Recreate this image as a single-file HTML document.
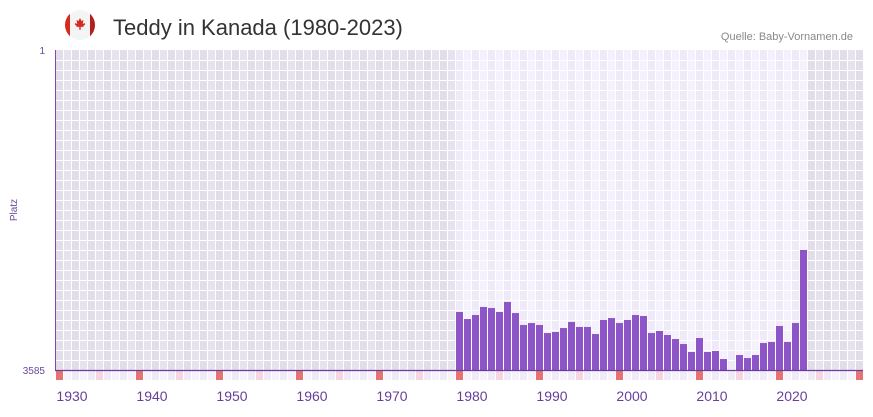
<!DOCTYPE html>
<html><head><meta charset="utf-8"><style>
body{margin:0;background:#fff;width:873px;height:412px;overflow:hidden;font-family:"Liberation Sans",sans-serif}
</style></head><body>
<svg id="chart" width="873" height="412" xmlns="http://www.w3.org/2000/svg">
<g>
<circle cx="80" cy="25" r="15" fill="#f4f4f4"/>
<path d="M70 13.8 A15 15 0 0 0 70 36.2 Z" fill="#d52b1e"/>
<path d="M90 13.8 A15 15 0 0 1 90 36.2 Z" fill="#b21f1f"/>
<path d="M80 18 l1.5 3 2-1 -0.8 4 2-1 0.5 1.5 -2 1.5 0.5 1 -3 -0.3 0 3 h-1.4 v-3 l-3 0.3 0.5-1 -2-1.5 0.5-1.5 2 1 -0.8-4 2 1z" fill="#d52b1e"/>
</g>
<text x="113" y="35" font-size="22" fill="#333">Teddy in Kanada (1980-2023)</text>
<text x="853" y="40" font-size="11" fill="#888" text-anchor="end">Quelle: Baby-Vornamen.de</text>
<g id="grid"></g>
<g id="bars"></g>
<g id="xaxis"></g>
<line x1="55.5" y1="50" x2="55.5" y2="370" stroke="#7b4fb0" stroke-width="1"/>
<line x1="55" y1="370.5" x2="863" y2="370.5" stroke="#6a3d9a" stroke-width="1.2"/>
<text x="45" y="54" font-size="10" fill="#6a4a9a" text-anchor="end">1</text>
<text x="45" y="374" font-size="10" fill="#6a4a9a" text-anchor="end">3585</text>
<text x="17" y="210" font-size="10" fill="#6a4a9a" text-anchor="middle" transform="rotate(-90 17 210)">Platz</text>
</svg>
<script>
const years=[1980,1981,1982,1983,1984,1985,1986,1987,1988,1989,1990,1991,1992,1993,1994,1995,1996,1997,1998,1999,2000,2001,2002,2003,2004,2005,2006,2007,2008,2009,2010,2011,2012,2013,2014,2015,2016,2017,2018,2019,2020,2021,2022,2023];
const ranks=[2935,3014,2969,2879,2891,2935,2823,2947,3081,3059,3081,3171,3159,3115,3047,3103,3103,3182,3025,3003,3059,3025,2969,2980,3171,3148,3193,3238,3294,3383,3227,3383,3372,3462,null,3417,3451,3417,3283,3271,3092,3271,3059,2241];
const xTicks=[1930,1940,1950,1960,1970,1980,1990,2000,2010,2020];
const NS="http://www.w3.org/2000/svg";
const yr0=1929.5,yr1=2030.5,pLeft=55.5,pRight=863.5;
const pTop=50,pBottom=370,rMin=1,rMax=3585;
function xs(y){return pLeft+(y-yr0)/(yr1-yr0)*(pRight-pLeft);}
function ys(r){return pTop+(r-rMin)/(rMax-rMin)*(pBottom-pTop);}
function mk(t,a){const e=document.createElementNS(NS,t);for(const k in a)e.setAttribute(k,a[k]);return e;}
const grid=document.getElementById('grid'),bars=document.getElementById('bars'),xa=document.getElementById('xaxis');
const yFirst=years[0],yLast=years[years.length-1];
for(let y=1930;y<=2030;y++){
  const inR=y>=yFirst&&y<=yLast;
  const alt=y%2===0;
  const c=inR?(alt?'#efeafa':'#f4f1fc'):(alt?'#e2dde9':'#e6e2ee');
  const r=mk('rect',{x:xs(y-0.5),y:pTop,width:8,height:pBottom-pTop,fill:c});
  
  
  grid.appendChild(r);
  const mc=y%10===0?'#e57373':(y%5===0?'#f5d6e0':(alt?'#efeaf7':'#f5f2fa'));
  const m=mk('rect',{x:xs(y-0.5)+0.5,y:371,width:7,height:9,fill:mc});
  
  
  grid.appendChild(m);
}
for(let y=1930;y<=2031;y++){
  const l=mk('line',{x1:xs(y-0.5),x2:xs(y-0.5),y1:pTop,y2:pBottom,stroke:'#fff','stroke-width':1});
  
  
  grid.appendChild(l);
}
for(let gy=pTop+10;gy<pBottom;gy+=10){
  const l=mk('line',{x1:pLeft,x2:pRight,y1:gy+0.5,y2:gy+0.5,stroke:'#fff','stroke-width':1});
  
  
  grid.appendChild(l);
}
years.forEach((y,i)=>{
  if(ranks[i]==null)return;
  const yt=ys(ranks[i]);
  const b=mk('rect',{x:xs(y)-3.5,y:yt,width:7,height:pBottom-yt,fill:'#8e55c8'});
  
  
  bars.appendChild(b);
});
xTicks.forEach(t=>{
  const tx=mk('text',{x:xs(t)+12.5,y:401,'font-size':14,fill:'#6a3d9a','text-anchor':'middle'});
  tx.textContent=t;
  
  
  xa.appendChild(tx);
});
</script>
</body></html>
